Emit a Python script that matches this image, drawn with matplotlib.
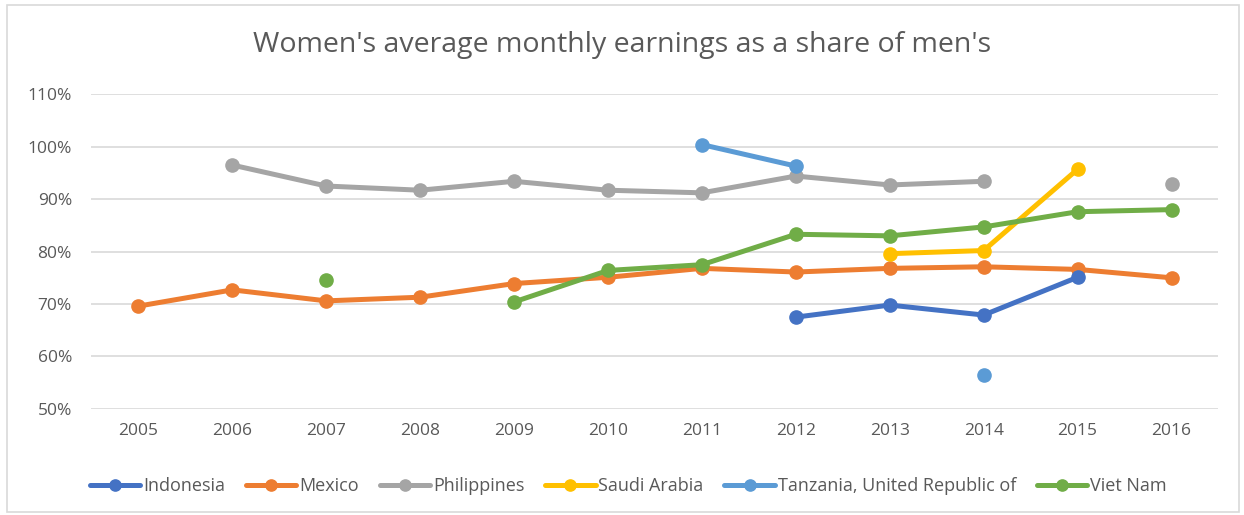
import numpy as np
import matplotlib.pyplot as plt
from matplotlib.patches import Rectangle
from matplotlib.ticker import FuncFormatter

nan = np.nan
years = list(range(2005, 2017))

indonesia = [nan, nan, nan, nan, nan, nan, nan, 67.5, 69.8, 67.9, 75.1, nan]
mexico = [69.6, 72.7, 70.6, 71.3, 73.9, 75.1, 76.8, 76.1, 76.8, 77.1, 76.6, 75.0]
philippines = [nan, 96.5, 92.5, 91.7, 93.4, 91.7, 91.2, 94.4, 92.7, 93.4, nan, 92.9]
saudi = [nan, nan, nan, nan, nan, nan, nan, nan, 79.6, 80.2, 95.7, nan]
tanzania = [nan, nan, nan, nan, nan, nan, 100.4, 96.3, nan, 56.4, nan, nan]
vietnam = [nan, nan, 74.6, nan, 70.4, 76.4, 77.5, 83.3, 83.0, 84.7, 87.6, 88.0]

names = ['Indonesia', 'Mexico', 'Philippines', 'Saudi Arabia',
         'Tanzania, United Republic of', 'Viet Nam']
series = [indonesia, mexico, philippines, saudi, tanzania, vietnam]
colors = ['#4472C4', '#ED7D31', '#A5A5A5', '#FFC000', '#5B9BD5', '#70AD47']
# draw order: gray first so others sit on top of it
order = [2, 4, 1, 0, 3, 5]

plt.rcParams['font.family'] = ['Open Sans', 'DejaVu Sans']

fig = plt.figure(figsize=(12.44, 5.15), dpi=100)
fig.patches.append(Rectangle((0.006, 0.006), 0.99, 0.984, transform=fig.transFigure,
                             fill=False, edgecolor='#D9D9D9', linewidth=1.2))
ax = fig.add_axes([0.0735, 0.206, 0.906, 0.611])

lines = {}
for i in order:
    ln, = ax.plot(years, series[i], color=colors[i], linewidth=3.6,
                  marker='o', markersize=9.5, solid_capstyle='round', zorder=3)
    lines[i] = ln

ax.set_xlim(2004.5, 2016.5)
ax.set_ylim(50, 110)
ax.set_yticks(range(50, 111, 10))
ax.set_xticks(years)
ax.yaxis.set_major_formatter(FuncFormatter(lambda v, p: f'{v:.0f}%'))
ax.grid(axis='y', color='#D9D9D9', linewidth=1.2)
ax.set_axisbelow(True)
for s in ax.spines.values():
    s.set_visible(False)
ax.tick_params(length=0, labelsize=12.5, colors='#595959', pad=10)
ax.tick_params(axis='y', pad=14)

fig.text(0.5, 0.912, "Women's average monthly earnings as a share of men's",
         ha='center', va='center', fontsize=20.5, color='#595959')

fig.legend([lines[i] for i in range(6)], names, loc='center', ncol=6,
           bbox_to_anchor=(0.505, 0.056), frameon=False, fontsize=13,
           labelcolor='#595959', handlelength=2.8, handletextpad=0.15,
           columnspacing=1.15, markerscale=0.85)

fig.savefig('out.png', dpi=100)
